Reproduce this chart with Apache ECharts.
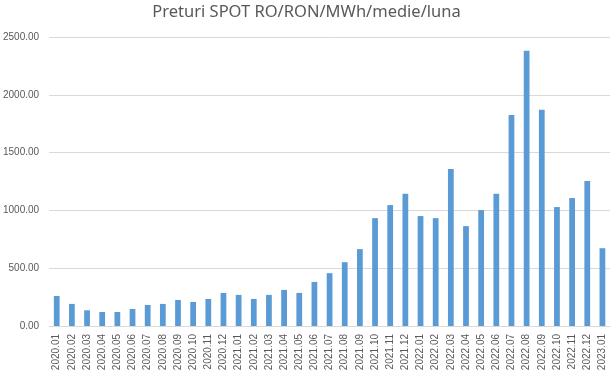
<!DOCTYPE html>
<html>
<head>
<meta charset="utf-8">
<script src="https://cdn.jsdelivr.net/npm/echarts@6/dist/echarts.min.js"></script>
<style>
  html, body { margin: 0; padding: 0; background: #fff; }
  #main { width: 613px; height: 376px; }
</style>
</head>
<body>
<div id="main"></div>
<script>
var luni = ['2020.01','2020.02','2020.03','2020.04','2020.05','2020.06','2020.07','2020.08','2020.09','2020.10','2020.11','2020.12',
            '2021.01','2021.02','2021.03','2021.04','2021.05','2021.06','2021.07','2021.08','2021.09','2021.10','2021.11','2021.12',
            '2022.01','2022.02','2022.03','2022.04','2022.05','2022.06','2022.07','2022.08','2022.09','2022.10','2022.11','2022.12',
            '2023.01'];
var preturi = [260, 191, 136, 121, 121, 147, 182, 191, 225, 208, 234, 286,
               269, 234, 269, 312, 286, 381, 457, 552, 665, 933, 1046, 1144,
               951, 933, 1358, 864, 1003, 1144, 1826, 2381, 1870, 1029, 1107, 1254,
               673];
var yTicks = [0, 500, 1000, 1500, 2000, 2500];

var chart = echarts.init(document.getElementById('main'));
var option = {
    animation: false,
    title: {
        text: 'Preturi SPOT RO/RON/MWh/medie/luna',
        left: 'center',
        top: -1,
        textStyle: { fontFamily: 'Noto Sans', fontSize: 16.5, fontWeight: 'normal', color: '#595959' }
    },
    grid: { left: 48, right: 3, top: 37, bottom: 50 },
    xAxis: {
        type: 'category',
        data: luni,
        axisLine: { lineStyle: { color: '#d9d9d9' } },
        axisTick: { show: false },
        axisLabel: { interval: 0, rotate: 90, fontFamily: 'Liberation Sans', fontSize: 10, color: '#595959', margin: 8 }
    },
    yAxis: {
        type: 'value',
        min: yTicks[0],
        max: yTicks[yTicks.length - 1],
        interval: 500,
        axisLine: { show: false },
        axisTick: { show: false },
        splitLine: { lineStyle: { color: '#d9d9d9' } },
        axisLabel: {
            fontFamily: 'Liberation Sans', fontSize: 10, color: '#595959', margin: 10,
            formatter: function (v) { return v.toFixed(2); }
        }
    },
    series: [{
        type: 'bar',
        data: preturi,
        barWidth: '38%',
        itemStyle: { color: '#5b9bd5' }
    }]
};
chart.setOption(option);
</script>
</body>
</html>
